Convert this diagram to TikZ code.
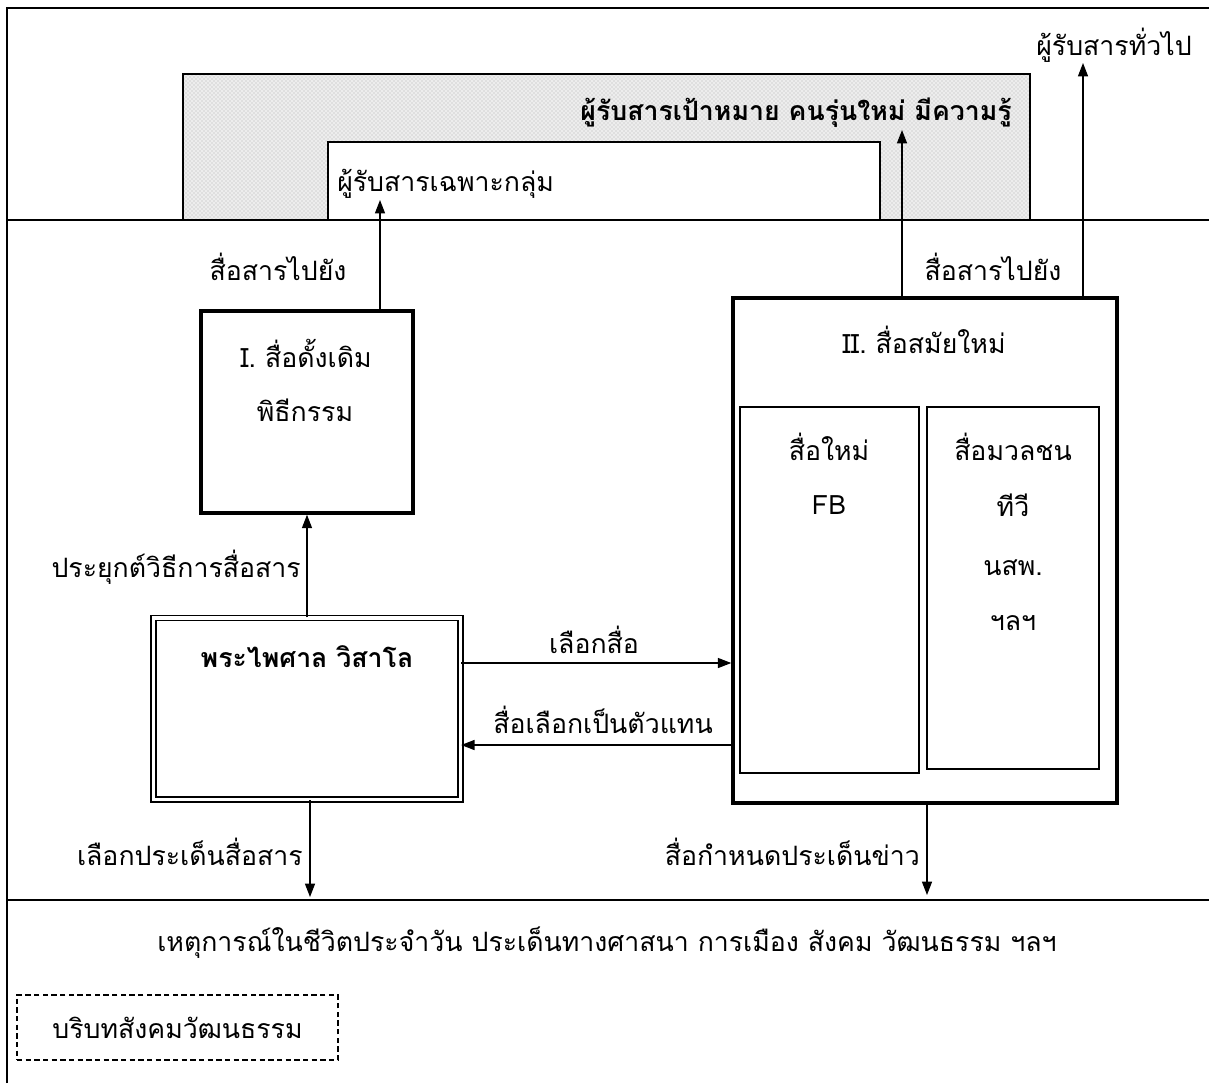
\documentclass[tikz,border=0pt]{standalone}
\usepackage{fontspec}
\newfontfamily\thai[Script=Thai]{Loma}
\usetikzlibrary{arrows.meta,fit,patterns}
\begin{document}
\begin{tikzpicture}[x=0.75pt,y=-0.75pt,
  font=\thai\fontsize{20}{24}\selectfont,
  frameline/.style={line width=1.4pt},
  thickbox/.style={draw, line width=2.6pt, inner sep=0pt},
  thinbox/.style={draw, line width=0.9pt, inner sep=0pt},
  monkbox/.style={draw, line width=1pt, double, double distance=2.6pt, inner sep=0pt},
  ctxbox/.style={draw, line width=1pt, dashed, dash pattern=on 4pt off 2.5pt, inner sep=0pt},
  arr/.style={line width=0.9pt, -{Triangle[length=10pt,width=7.5pt]}},
  lbl/.style={inner sep=0pt, anchor=center},
  bold/.style={font=\thai\bfseries\fontsize{20}{24}\selectfont}]
\useasboundingbox (0,0) rectangle (1209,1083);
\fill[white] (0,0) rectangle (1209,1083);
% frame and dividers
\draw[frameline] (7,1083) -- (7,8) -- (1209,8);
\draw[frameline] (7,900) -- (1209,900);
% shaded target audience band
\fill[gray!14] (183,74) rectangle (1030,220);
\fill[pattern=crosshatch dots, pattern color=gray!60] (183,74) rectangle (1030,220);
\draw[line width=1pt] (183,220) -- (183,74) -- (1030,74) -- (1030,220);
\fill[white] (328,142) rectangle (880,220);
\draw[line width=1pt] (328,220) -- (328,142) -- (880,142) -- (880,220);
\draw[frameline] (7,220) -- (1209,220);
% boxes
\node[thickbox, fit={(201,311) (413,513)}] (trad) {};
\node[monkbox, fit={(153.5,618) (460.5,799.5)}] (monk) {};
\node[thickbox, fit={(733,298) (1117,803)}] (modern) {};
\node[thinbox, fit={(740,407) (919,773)}] (newm) {};
\node[thinbox, fit={(927,407) (1099,769)}] (mass) {};
\node[ctxbox, fit={(17,995) (338,1060)}] (ctx) {};
% texts
\node[lbl] (gen) at (1114,45) {ผู้รับสารทั่วไป};
\node[lbl, bold, anchor=east] (target) at (1012,113) {ผู้รับสารเป้าหมาย คนรุ่นใหม่ มีความรู้};
\node[lbl, anchor=west] (group) at (337,184) {ผู้รับสารเฉพาะกลุ่ม};
\node[lbl] (toL) at (278,267) {สื่อสารไปยัง};
\node[lbl] (toR) at (993,267) {สื่อสารไปยัง};
\node[lbl] (tradA) at (306,353) {I. สื่อดั้งเดิม};
\node[lbl] (tradB) at (305,410) {พิธีกรรม};
\node[lbl] (modA) at (924,340) {II. สื่อสมัยใหม่};
\node[lbl] (newA) at (829,447) {สื่อใหม่};
\node[lbl] (newB) at (829,505) {FB};
\node[lbl] (massA) at (1013,447) {สื่อมวลชน};
\node[lbl] (massB) at (1013,505) {ทีวี};
\node[lbl] (massC) at (1013,568) {นสพ.};
\node[lbl] (massD) at (1013,623) {ฯลฯ};
\node[lbl, anchor=east] (apply) at (301,567) {ประยุกต์วิธีการสื่อสาร};
\node[lbl, bold] (monkname) at (307,657) {พระไพศาล วิสาโล};
\node[lbl] (choose) at (594,640) {เลือกสื่อ};
\node[lbl, anchor=east] (represent) at (713,720) {สื่อเลือกเป็นตัวแทน};
\node[lbl, anchor=east] (issue) at (303,852) {เลือกประเด็นสื่อสาร};
\node[lbl, anchor=east] (agenda) at (920,852) {สื่อกำหนดประเด็นข่าว};
\node[lbl] (events) at (607,943) {เหตุการณ์ในชีวิตประจำวัน ประเด็นทางศาสนา การเมือง สังคม วัฒนธรรม ฯลฯ};
\node[lbl] (ctxtext) at (ctx.center) {บริบทสังคมวัฒนธรรม};
% arrow end points
\coordinate (tA) at (380,200);
\coordinate (tB) at (902,130);
\coordinate (tC) at (1083,63);
\coordinate (hA) at (0,663);
\coordinate (hB) at (0,745);
\coordinate (dA) at (310,897);
\coordinate (dB) at (927,895);
\coordinate (uA) at (307,0);
% connectors
\draw[arr] (trad.north -| tA) -- (tA);
\draw[arr] (modern.north -| tB) -- (tB);
\draw[arr] (modern.north -| tC) -- (tC);
\draw[arr] (monk.north -| uA) -- (trad.south -| uA);
\draw[arr] (monk.east |- hA) -- (modern.west |- hA);
\draw[arr] (modern.west |- hB) -- (monk.east |- hB);
\draw[arr] (monk.south -| dA) -- (dA);
\draw[arr] (modern.south -| dB) -- (dB);
\end{tikzpicture}
\end{document}
